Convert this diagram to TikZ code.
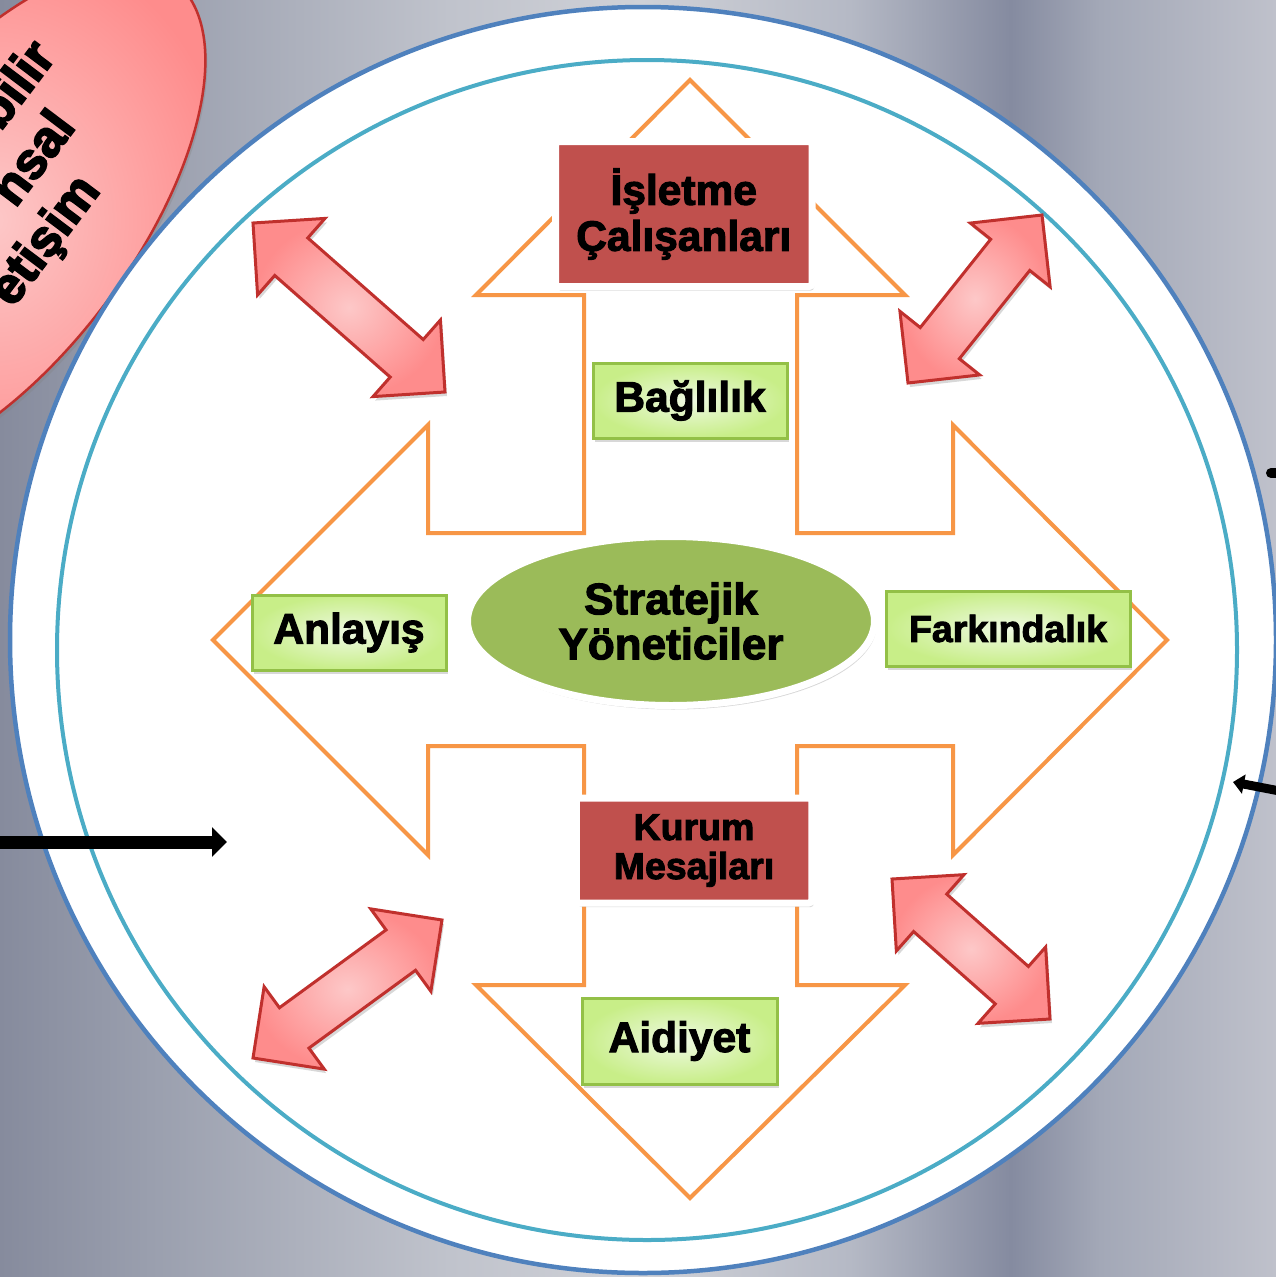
\documentclass[tikz,border=0pt]{standalone}
\usepackage{fontspec}
\setmainfont{Liberation Sans}
\newfontfamily\hv[FakeBold=2.5]{Liberation Sans Bold}
\newfontfamily\hvx[FakeBold=3.5]{Liberation Sans Bold}
\usetikzlibrary{calc,shadows,arrows.meta,shapes.geometric}
\definecolor{bg0}{HTML}{868B9D}
\definecolor{bg1}{HTML}{9A9FAE}
\definecolor{bg2}{HTML}{C0C3CC}
\definecolor{bg3}{HTML}{CFD1D7}
\definecolor{bg4}{HTML}{B5B9C5}
\definecolor{bg5}{HTML}{858BA0}
\definecolor{bg6}{HTML}{A3A8B7}
\definecolor{bg7}{HTML}{BFC1CB}
\definecolor{orangeC}{HTML}{F79646}
\definecolor{redC}{HTML}{C0504D}
\definecolor{greenB}{HTML}{93C047}
\definecolor{greenI}{HTML}{EEF9E2}
\definecolor{greenO}{HTML}{C8EE88}
\definecolor{olive}{HTML}{9BBB59}
\definecolor{blueC}{HTML}{4F81BD}
\definecolor{tealC}{HTML}{4BACC6}
\definecolor{pinkI}{HTML}{FDC8C8}
\definecolor{pinkO}{HTML}{FE8C8C}
\definecolor{pinkB}{HTML}{C0302D}
\pgfdeclarehorizontalshading{bgshade}{100bp}{color(0bp)=(bg0); color(25bp)=(bg0); color(30.9bp)=(bg1); color(42.6bp)=(bg2); color(50.1bp)=(bg3); color(58.3bp)=(bg4); color(64.6bp)=(bg5); color(68.1bp)=(bg6); color(75bp)=(bg7); color(100bp)=(bg7)}
\tikzset{
  orangeln/.style={draw=orangeC, line width=4pt, line join=miter},
  softshadow/.style={drop shadow={opacity=0.3, shadow xshift=2pt, shadow yshift=-4pt}},
  redbox/.style={rectangle, draw=white, line width=7pt, fill=redC, rounded corners=3pt,
     inner sep=0pt, align=center, softshadow},
  greenbox/.style={rectangle, draw=greenB, line width=3pt, inner color=greenI, outer color=greenO,
     inner sep=0pt, align=center, softshadow, minimum height=75pt},
  pinkarrow/.style={draw=pinkB, line width=3pt, line join=miter, inner color=pinkI, outer color=pinkO, softshadow},
  bigtxt/.style={font=\hv\fontsize{42.5}{46}\selectfont},
  midtxt/.style={font=\hv\fontsize{37.5}{39}\selectfont},
  blackarrow/.style={draw=black, line width=13pt, -{Triangle[length=15pt,width=29pt]}}
}
\newcommand\dblarr[2]{%
  \coordinate (#1h) at ($(#1)!51pt!(#2)$);
  \coordinate (#2h) at ($(#2)!51pt!(#1)$);
  \path[pinkarrow] (#1) -- ($(#1h)!51pt!90:(#2)$) -- ($(#1h)!25pt!90:(#2)$)
    -- ($(#2h)!25pt!-90:(#1)$) -- ($(#2h)!51pt!-90:(#1)$) -- (#2)
    -- ($(#2h)!51pt!90:(#1)$) -- ($(#2h)!25pt!90:(#1)$)
    -- ($(#1h)!25pt!-90:(#2)$) -- ($(#1h)!51pt!-90:(#2)$) -- cycle;}
\begin{document}
\begin{tikzpicture}[x=1pt,y=-1pt]
\useasboundingbox (0,0) rectangle (1276,1277);
\clip (0,0) rectangle (1276,1277);
% background
\shade[shading=bgshade] (0,0) rectangle (1276,1277);
% top-left ellipse
\path[draw=pinkB, line width=2.5pt, inner color=pinkI, outer color=pinkO, softshadow]
  [rotate around={53:(-7,220)}] (-7,220) ellipse [x radius=300, y radius=140];
\node[rotate=53, anchor=base east, inner sep=0pt, font=\hvx\fontsize{51}{58}\selectfont] (etxt) at (57,57)
  {\begin{tabular}[t]{@{}r@{}}bilir\\nsal\rule{44pt}{0pt}\\etişim\rule{80pt}{0pt}\end{tabular}};
% circles
\draw[draw=blueC, line width=4.5pt, fill=white] (643,640) circle [radius=633];
\draw[draw=tealC, line width=4pt] (647,650) circle [radius=590];
% black arrows
\coordinate (la) at (-5,842);
\coordinate (lb) at (227,842);
\draw[blackarrow] (la) -- (lb);
\coordinate (ra) at (1290,793);
\coordinate (rb) at (1233,782);
\draw[draw=black, line width=9pt, -{Triangle[length=11pt,width=19pt]}] (ra) -- (rb);
\coordinate (sa) at (1271,473);
\coordinate (sb) at (1290,473);
\draw[draw=black, line width=10pt, line cap=round] (sa) -- (sb);
% orange quad arrow
\draw[orangeln] (690,80) -- (905,295) -- (797,295) -- (797,533) -- (953,533) -- (953,425)
  -- (1167,640) -- (953,855) -- (953,746) -- (797,746) -- (797,985) -- (905,985)
  -- (690,1198) -- (476,985) -- (584,985) -- (584,746) -- (428,746) -- (428,855)
  -- (213,640) -- (428,425) -- (428,533) -- (584,533) -- (584,295) -- (476,295) -- cycle;
% pink double arrows
\coordinate (a1) at (253,223); \coordinate (b1) at (445,392);
\coordinate (a2) at (1042,215); \coordinate (b2) at (908,383);
\coordinate (a3) at (442,920); \coordinate (b3) at (253,1058);
\coordinate (a4) at (892,879); \coordinate (b4) at (1050,1019);
\dblarr{a1}{b1}
\dblarr{a2}{b2}
\dblarr{a3}{b3}
\dblarr{a4}{b4}
% nodes
\node[redbox, bigtxt, minimum width=256.5pt, minimum height=145pt] (isl) at (683.75,214) {İşletme\\Çalışanları};
\node[redbox, midtxt, minimum width=235.5pt, minimum height=105pt] (kur) at (694,850.5) {Kurum\\Mesajları};
\node[greenbox, bigtxt, minimum width=194pt] (bag) at (690,400.5) {Bağlılık};
\node[greenbox, bigtxt, minimum width=194pt] (anl) at (349,632.5) {Anlayış};
\node[greenbox, midtxt, minimum width=244pt] (far) at (1008,628.5) {Farkındalık};
\node[greenbox, bigtxt, minimum width=195pt, minimum height=86pt] (aid) at (679.5,1041) {Aidiyet};
\node[ellipse, draw=white, line width=7pt, fill=olive, minimum width=407pt, minimum height=169pt,
  inner sep=0pt, align=center, softshadow, font=\hv\fontsize{44}{45}\selectfont] (str) at (671,621) {Stratejik\\Yöneticiler};
\end{tikzpicture}
\end{document}
